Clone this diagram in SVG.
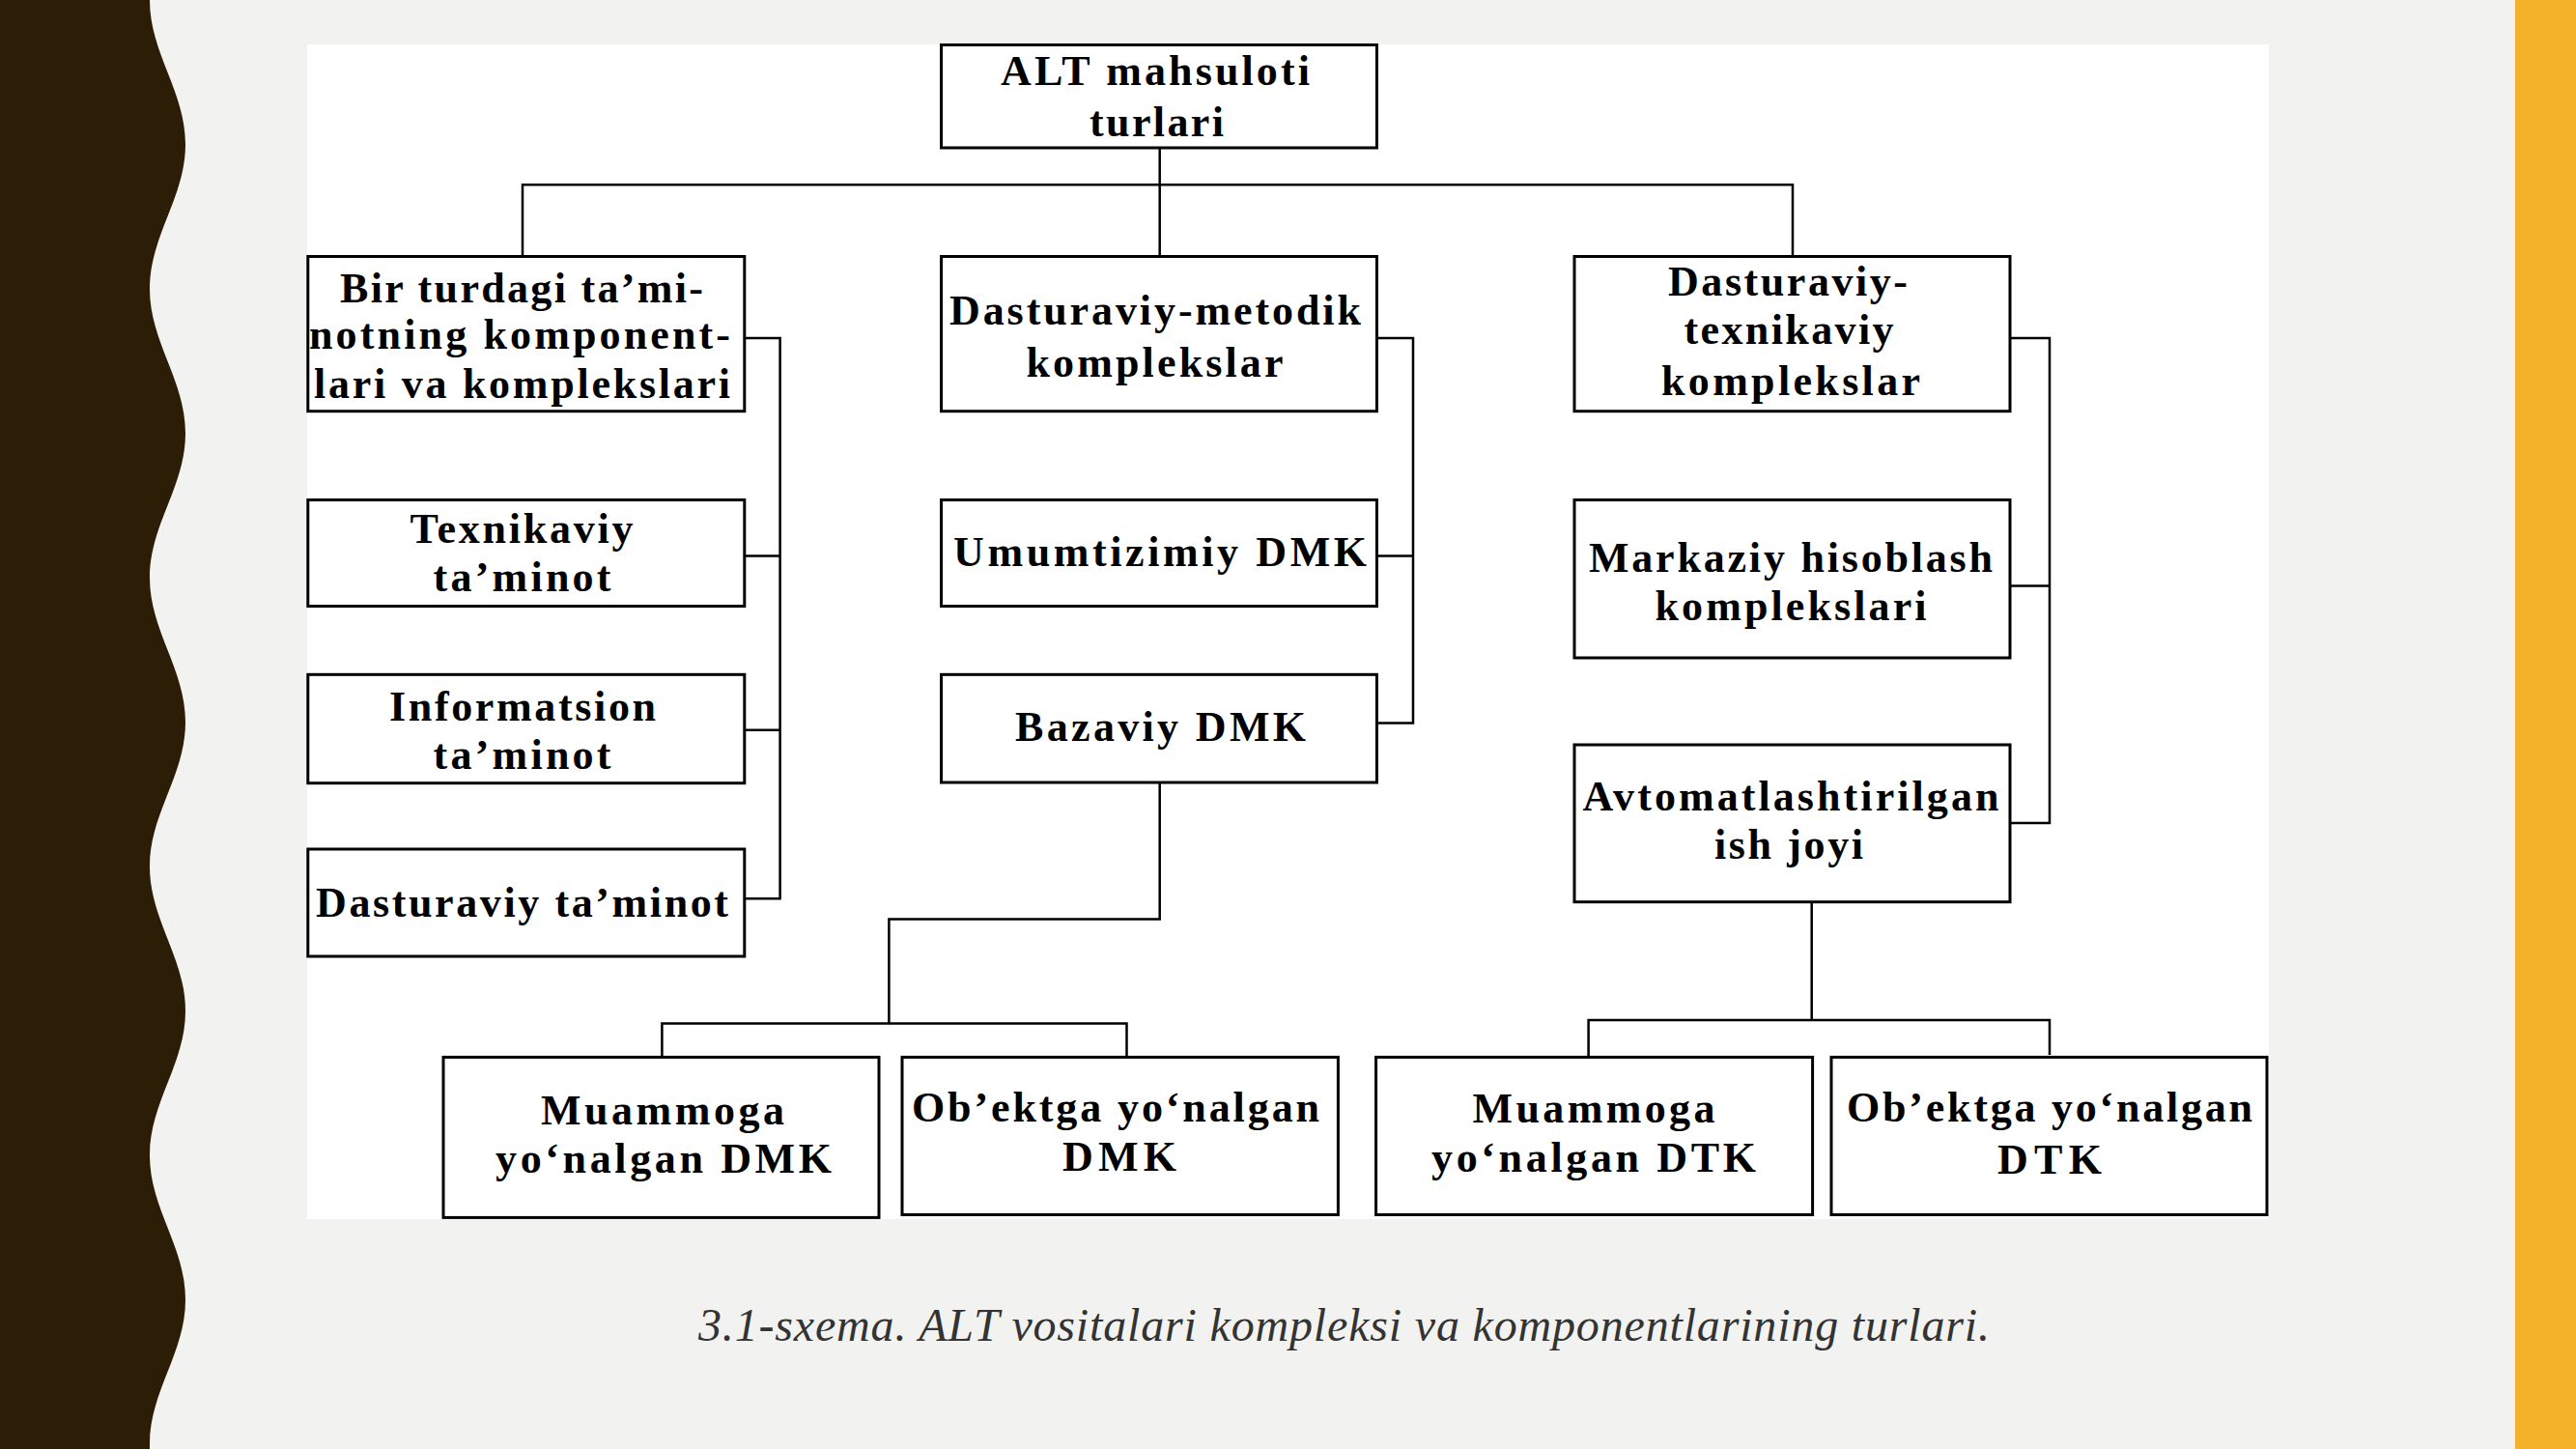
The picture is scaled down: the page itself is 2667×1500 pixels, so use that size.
<svg xmlns="http://www.w3.org/2000/svg" width="2667" height="1500" viewBox="0 0 2667 1500">
<style>
.box{fill:#fff;stroke:#000;stroke-width:3}
.lbl{font-family:"Liberation Serif","Times New Roman",serif;font-weight:bold;font-size:44px;text-anchor:middle;fill:#000}
.conn{fill:none;stroke:#000;stroke-width:2.5}
.cap{font-family:"Liberation Serif","Times New Roman",serif;font-style:italic;font-size:48px;text-anchor:middle;fill:#333}
</style>
<rect x="0" y="0" width="2667" height="1500" fill="#f2f2f0"/>
<path d="M0,0 H155 C155,55 192,94.5 192,149.5 S155,244 155,299 S192,393.5 192,448.5 S155,543 155,598 S192,692.5 192,747.5 S155,842 155,897 S192,991.5 192,1046.5 S155,1141 155,1196 S192,1290.5 192,1345.5 S155,1440 155,1495 L155,1500 H0 Z" fill="#2c1d06"/>
<rect x="2604" y="0" width="63" height="1500" fill="#f4b22a"/>
<rect x="318" y="46" width="2031" height="1216" fill="#fff"/>

<g id="connectors">
<path class="conn" d="M1200.7,153 V265.5"/>
<path class="conn" d="M541,265.5 V191.3 H1856 V265.5"/>
<path class="conn" d="M770.9,350 H807.6 V930.3 H770.9 M770.9,575.4 H807.6 M770.9,755.7 H807.6"/>
<path class="conn" d="M1426,350 H1463 V748.4 H1426 M1426,575.4 H1463"/>
<path class="conn" d="M2081,350 H2122 V852 H2081 M2081,606.5 H2122"/>
<path class="conn" d="M1200.7,810 V951.5 H920.4 V1059.5 M685.4,1094.4 V1059.5 H1166.5 V1094.4"/>
<path class="conn" d="M1875.7,933.7 V1056 M1644.6,1094.4 V1056 H2122 V1092"/>
</g>

<g id="n_root">
<rect class="box" x="974.5" y="46.5" width="451" height="106.5"/>
<text class="lbl" x="1196" y="87.5" textLength="320" lengthAdjust="spacing">ALT mahsuloti</text>
<text class="lbl" x="1197.5" y="141" textLength="139" lengthAdjust="spacing">turlari</text>
</g>

<g id="n_bir">
<rect class="box" x="318.8" y="265.5" width="452" height="160.2"/>
<text class="lbl" x="540" y="313" textLength="376" lengthAdjust="spacing">Bir turdagi ta’mi-</text>
<text class="lbl" x="538" y="361" textLength="436" lengthAdjust="spacing">notning komponent-</text>
<text class="lbl" x="540.5" y="412" textLength="431" lengthAdjust="spacing">lari va komplekslari</text>
</g>

<g id="n_dmk">
<rect class="box" x="974.5" y="265.5" width="451" height="160.2"/>
<text class="lbl" x="1196" y="336" textLength="426" lengthAdjust="spacing">Dasturaviy-metodik</text>
<text class="lbl" x="1195.5" y="390" textLength="266" lengthAdjust="spacing">komplekslar</text>
</g>

<g id="n_dtk">
<rect class="box" x="1630" y="265.5" width="451" height="160.2"/>
<text class="lbl" x="1851" y="306" textLength="248" lengthAdjust="spacing">Dasturaviy-</text>
<text class="lbl" x="1852" y="356" textLength="217" lengthAdjust="spacing">texnikaviy</text>
<text class="lbl" x="1854" y="409" textLength="268" lengthAdjust="spacing">komplekslar</text>
</g>

<g id="n_texnik">
<rect class="box" x="318.8" y="517.5" width="452" height="110"/>
<text class="lbl" x="540" y="562" textLength="231" lengthAdjust="spacing">Texnikaviy</text>
<text class="lbl" x="540.5" y="612" textLength="184" lengthAdjust="spacing">ta’minot</text>
</g>

<g id="n_inform">
<rect class="box" x="318.8" y="698.3" width="452" height="112.4"/>
<text class="lbl" x="541" y="746" textLength="276" lengthAdjust="spacing">Informatsion</text>
<text class="lbl" x="540.5" y="795.5" textLength="184" lengthAdjust="spacing">ta’minot</text>
</g>

<g id="n_dastur">
<rect class="box" x="318.8" y="879" width="452" height="111"/>
<text class="lbl" x="540.5" y="948.5" textLength="427" lengthAdjust="spacing">Dasturaviy ta’minot</text>
</g>

<g id="n_umum">
<rect class="box" x="974.5" y="517.5" width="451" height="110"/>
<text class="lbl" x="1201" y="586" textLength="428" lengthAdjust="spacing">Umumtizimiy DMK</text>
</g>

<g id="n_baza">
<rect class="box" x="974.5" y="698.3" width="451" height="111.7"/>
<text class="lbl" x="1201.5" y="767" textLength="301" lengthAdjust="spacing">Bazaviy DMK</text>
</g>

<g id="n_markaz">
<rect class="box" x="1630" y="517.5" width="451" height="163.5"/>
<text class="lbl" x="1854" y="592" textLength="418" lengthAdjust="spacing">Markaziy hisoblash</text>
<text class="lbl" x="1854" y="642" textLength="281" lengthAdjust="spacing">komplekslari</text>
</g>

<g id="n_avto">
<rect class="box" x="1630" y="771" width="451" height="162.7"/>
<text class="lbl" x="1854" y="838.5" textLength="431" lengthAdjust="spacing">Avtomatlashtirilgan</text>
<text class="lbl" x="1852" y="888.7" textLength="154" lengthAdjust="spacing">ish joyi</text>
</g>

<g id="n_muam_dmk">
<rect class="box" x="459" y="1094.4" width="451" height="166"/>
<text class="lbl" x="686" y="1163.8" textLength="252" lengthAdjust="spacing">Muammoga</text>
<text class="lbl" x="687" y="1214" textLength="348" lengthAdjust="spacing">yo‘nalgan DMK</text>
</g>

<g id="n_obj_dmk">
<rect class="box" x="934" y="1094.4" width="451.4" height="163.1"/>
<text class="lbl" x="1155" y="1160.5" textLength="422" lengthAdjust="spacing">Ob’ektga yo‘nalgan</text>
<text class="lbl" x="1159" y="1211.7" textLength="118" lengthAdjust="spacing">DMK</text>
</g>

<g id="n_muam_dtk">
<rect class="box" x="1424.6" y="1094.4" width="452" height="163.1"/>
<text class="lbl" x="1650" y="1161.5" textLength="251" lengthAdjust="spacing">Muammoga</text>
<text class="lbl" x="1650" y="1213" textLength="336" lengthAdjust="spacing">yo‘nalgan DTK</text>
</g>

<g id="n_obj_dtk">
<rect class="box" x="1896" y="1094.4" width="451" height="163.1"/>
<text class="lbl" x="2122" y="1160.5" textLength="420" lengthAdjust="spacing">Ob’ektga yo‘nalgan</text>
<text class="lbl" x="2122" y="1215" textLength="108" lengthAdjust="spacing">DTK</text>
</g>

<text class="cap" x="1391.5" y="1388" textLength="1337" lengthAdjust="spacing">3.1-sxema. ALT vositalari kompleksi va komponentlarining turlari.</text>
</svg>
